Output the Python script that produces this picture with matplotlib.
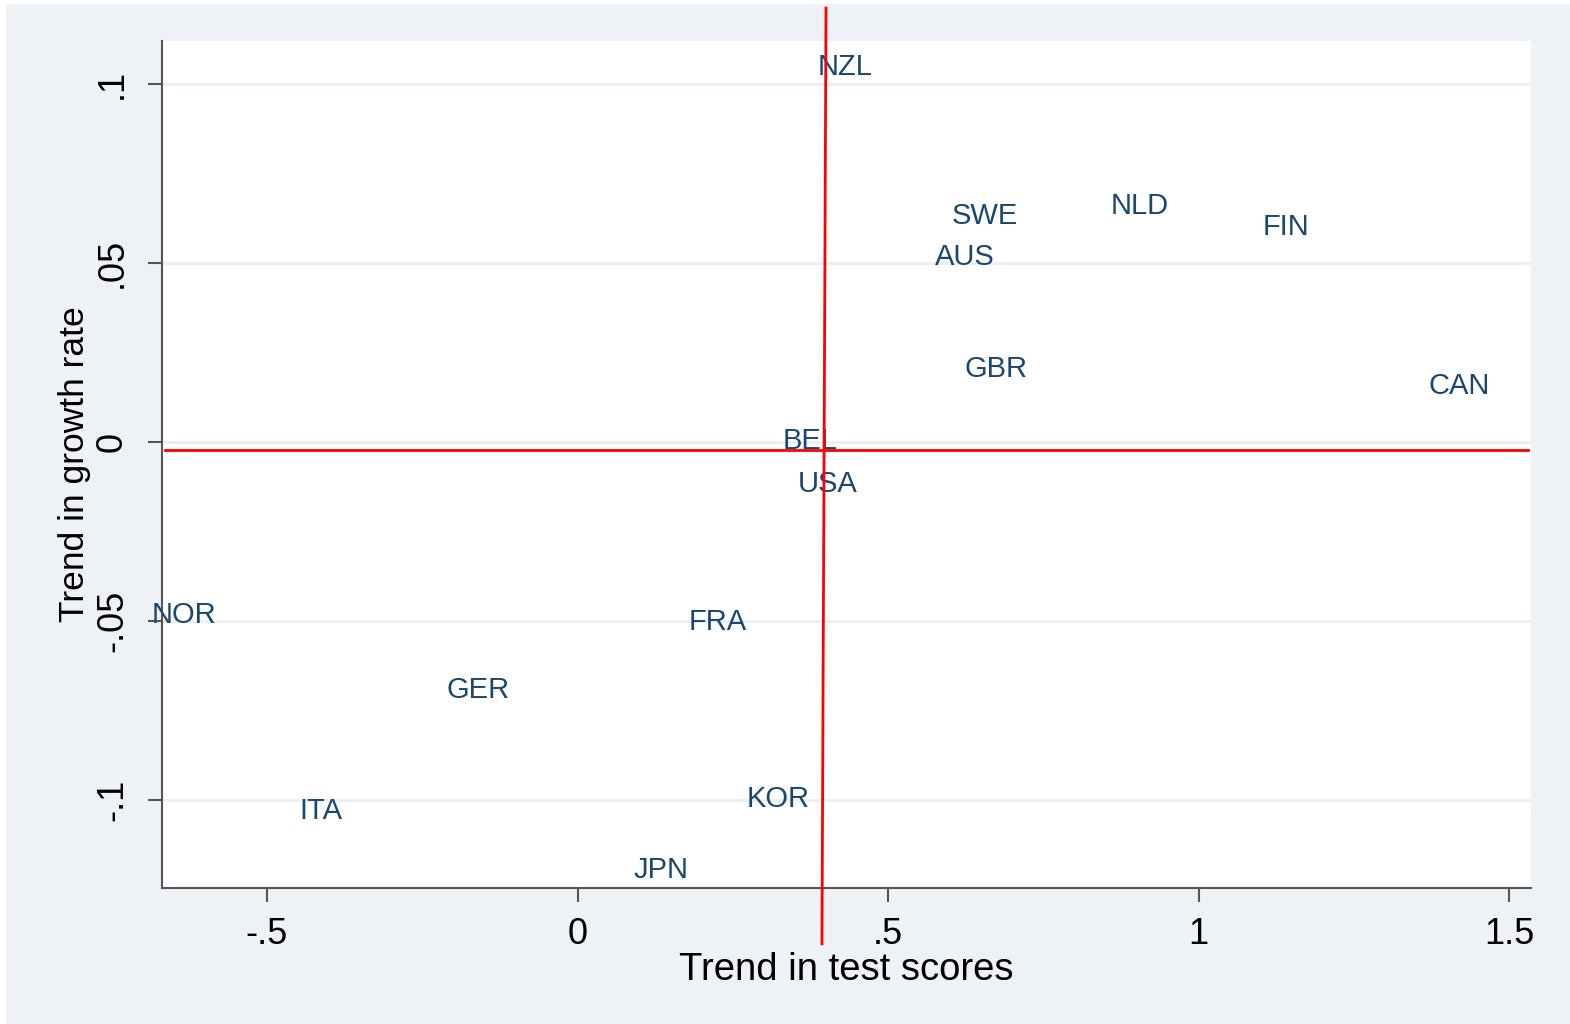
import matplotlib
matplotlib.use('Agg')
import matplotlib.pyplot as plt
from matplotlib.patches import Rectangle

# Country labels and their positions (trend in test scores, trend in growth rate)
countries = ["NZL", "SWE", "NLD", "FIN", "AUS", "GBR", "CAN", "BEL",
             "USA", "NOR", "FRA", "GER", "ITA", "KOR", "JPN"]
test_trend = [0.431, 0.656, 0.905, 1.140, 0.624, 0.674, 1.419, 0.374,
              0.403, -0.634, 0.226, -0.160, -0.413, 0.323, 0.134]
growth_trend = [0.1056, 0.0640, 0.0668, 0.0609, 0.0525, 0.0212, 0.0165, 0.0011,
                -0.0109, -0.0475, -0.0494, -0.0684, -0.1022, -0.0989, -0.1187]

x_ticks = [-0.5, 0, 0.5, 1, 1.5]
x_ticklabels = ["-.5", "0", ".5", "1", "1.5"]
y_ticks = [-0.1, -0.05, 0, 0.05, 0.1]
y_ticklabels = ["-.1", "-.05", "0", ".05", ".1"]

# red reference lines (mean of each axis)
vline_x = [0.400, 0.3935]
vline_y = [0.1212, -0.1402]
hline_x = [-0.664, 1.530]
hline_y = [-0.0022, -0.0022]

BG = '#EEF1F6'
NAVY = '#1A476F'
AXIS = '#555555'

plt.rcParams.update({
    'font.family': ['Liberation Sans', 'DejaVu Sans'],
    'figure.facecolor': 'white',
})

fig = plt.figure(figsize=(15.7, 10.24), dpi=100)
fig.patches.append(Rectangle((6 / 1570, 0), 1, 1 - 4 / 1024, transform=fig.transFigure,
                             facecolor=BG, edgecolor='none', zorder=-10))

ax = fig.add_axes([162 / 1570, 1 - 888 / 1024, (1531 - 162) / 1570, (888 - 41) / 1024])
ax.set_facecolor('white')
ax.set_xlim(-0.669, 1.535)
ax.set_ylim(-0.1246, 0.112)

for s in ['top', 'right']:
    ax.spines[s].set_visible(False)
for s in ['left', 'bottom']:
    ax.spines[s].set_color(AXIS)
    ax.spines[s].set_linewidth(1.5)

ax.set_xticks(x_ticks)
ax.set_xticklabels(x_ticklabels)
ax.set_yticks(y_ticks)
ax.set_yticklabels(y_ticklabels, rotation=90, va='center')
ax.tick_params(axis='both', length=10, width=1.5, color=AXIS, labelsize=26)
ax.tick_params(axis='x', pad=11)
ax.tick_params(axis='y', pad=13)
ax.grid(axis='y', color='#EAEFF4', linewidth=2)
ax.set_axisbelow(True)

for name, x, y in zip(countries, test_trend, growth_trend):
    ax.text(x, y, name, ha='center', va='center_baseline', fontsize=21,
            color=NAVY, clip_on=False)

ax.plot(hline_x, hline_y, color='#FF0000', linewidth=2, zorder=5)
ax.plot(vline_x, vline_y, color='#FF0000', linewidth=2, zorder=5, clip_on=False)

ax.set_xlabel("Trend in test scores", fontsize=27.5, labelpad=0)
ax.set_ylabel("Trend in growth rate", fontsize=25.5, labelpad=3)

fig.savefig('out.png', dpi=100)
